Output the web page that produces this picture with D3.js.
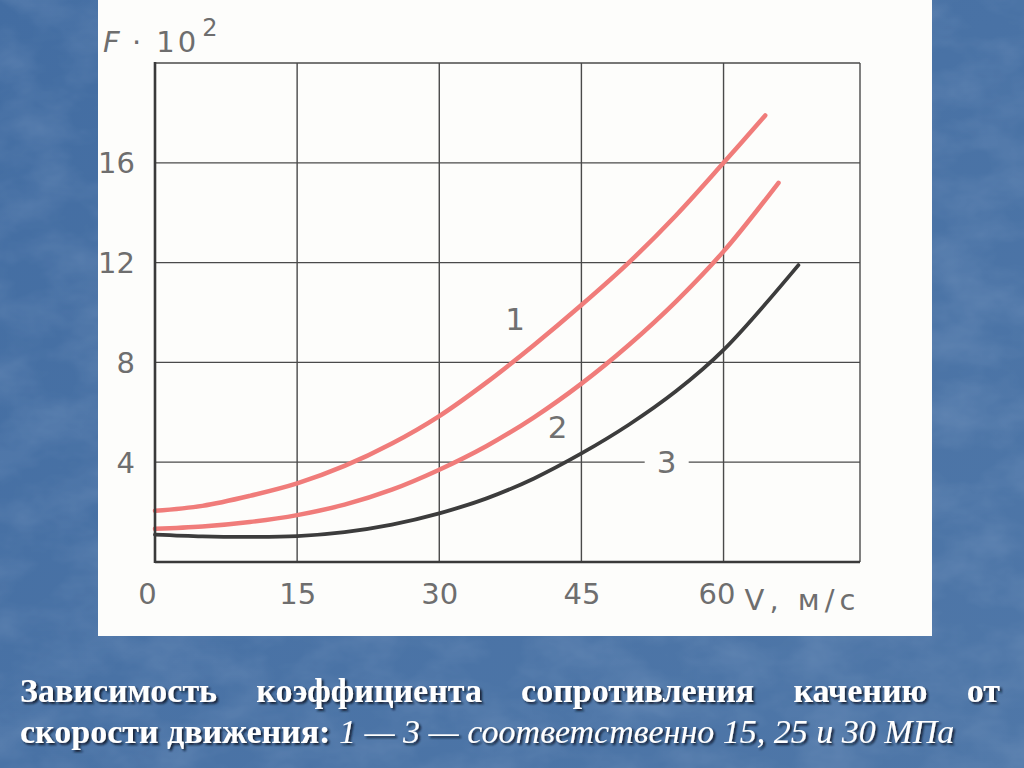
<!DOCTYPE html>
<html><head><meta charset="utf-8">
<script src="https://cdn.jsdelivr.net/npm/d3@7"></script>
<style>html,body{margin:0;padding:0;background:#4b73a5;}svg{display:block}</style>
</head><body>
<svg id="c" width="1024" height="768"></svg>
<script>
// ---- data ----
const speeds1 = [0, 5, 10, 15, 20, 25, 30, 35, 40, 45, 50, 55, 60, 64.4];
const curve1  = [2.05, 2.25, 2.65, 3.15, 3.85, 4.75, 5.85, 7.2, 8.7, 10.3, 12.0, 13.9, 16.0, 17.9];
const speeds2 = [0, 5, 10, 15, 20, 25, 30, 35, 40, 45, 50, 55, 60, 65.8];
const curve2  = [1.33, 1.42, 1.6, 1.88, 2.3, 2.9, 3.7, 4.65, 5.8, 7.15, 8.7, 10.45, 12.45, 15.2];
const speeds3 = [0, 5, 10, 15, 20, 25, 30, 35, 40, 45, 50, 55, 60, 67.9];
const curve3  = [1.1, 1.03, 1.01, 1.04, 1.2, 1.5, 1.95, 2.55, 3.35, 4.35, 5.5, 6.85, 8.5, 11.9];
const xTicks = [0, 15, 30, 45, 60];
const yTicks = [4, 8, 12, 16];
const gridX = [15, 30, 45, 60];
const gridY = [4, 8, 12, 16];
const curveLabels = [{t:"1", x:38, y:9.3}, {t:"2", x:42.5, y:4.95}, {t:"3", x:54, y:3.55}];
const captionLine1 = ["Зависимость", "коэффициента", "сопротивления", "качению", "от"];
const captionBold2 = "скорости движения:";
const captionItalic2 = "1 — 3 — соответственно 15, 25 и 30 МПа";

const svg = d3.select("#c");
const defs = svg.append("defs");
const tex = defs.append("filter").attr("id","tex").attr("x",0).attr("y",0).attr("width","100%").attr("height","100%");
tex.append("feTurbulence").attr("type","fractalNoise").attr("baseFrequency","0.015 0.025").attr("numOctaves",4).attr("seed",7).attr("result","n");
tex.append("feColorMatrix").attr("in","n").attr("type","matrix")
  .attr("values","0 0 0 0 0.8  0 0 0 0 0.87  0 0 0 0 1  0 0 0 0.22 -0.08").attr("result","m");
tex.append("feComposite").attr("in","m").attr("in2","SourceGraphic").attr("operator","in");
const sh = defs.append("filter").attr("id","sh").attr("x","-5%").attr("y","-20%").attr("width","110%").attr("height","140%");
sh.append("feDropShadow").attr("dx",2).attr("dy",2).attr("stdDeviation",0.8).attr("flood-color","#0c1828").attr("flood-opacity",0.9);

// background
const bg = defs.append("linearGradient").attr("id","bg").attr("x1",0).attr("y1",0).attr("x2",1).attr("y2",1);
bg.append("stop").attr("offset","0%").attr("stop-color","#436da2");
bg.append("stop").attr("offset","100%").attr("stop-color","#4f77a8");
svg.append("rect").attr("width",1024).attr("height",768).attr("fill","url(#bg)");
svg.append("rect").attr("width",1024).attr("height",768).attr("fill","#4a72a4").attr("filter","url(#tex)");

// white picture
svg.append("rect").attr("x",98).attr("y",0).attr("width",834).attr("height",636).attr("fill","#fdfdfb");

const x = d3.scaleLinear().domain([0, 74.4]).range([155, 860]);
const y = d3.scaleLinear().domain([0, 20]).range([562, 63]);

const g = svg.append("g");
const gridCol = "#4a4a4a";
// grid
g.selectAll(".gx").data(gridX).join("line")
  .attr("x1",d=>x(d)).attr("x2",d=>x(d)).attr("y1",y(0)).attr("y2",y(20))
  .attr("stroke",gridCol).attr("stroke-width",1.4);
g.selectAll(".gy").data(gridY).join("line")
  .attr("x1",x(0)).attr("x2",x(74.4)).attr("y1",d=>y(d)).attr("y2",d=>y(d))
  .attr("stroke",gridCol).attr("stroke-width",1.3);
// frame
g.append("line").attr("x1",x(0)).attr("x2",x(74.4)).attr("y1",y(20)).attr("y2",y(20)).attr("stroke",gridCol).attr("stroke-width",1.6);
g.append("line").attr("x1",x(74.4)).attr("x2",x(74.4)).attr("y1",y(0)).attr("y2",y(20)).attr("stroke",gridCol).attr("stroke-width",1.4);

// curve labels (3 has white background)
const lab = g.selectAll(".cl").data(curveLabels).join("g");
lab.filter(d=>d.t==="3").append("rect")
  .attr("x",d=>x(d.x)-22).attr("y",d=>y(d.y)-28).attr("width",44).attr("height",34).attr("fill","#fdfdfb");
lab.append("text").attr("x",d=>x(d.x)).attr("y",d=>y(d.y))
  .attr("text-anchor","middle").attr("font-family","DejaVu Sans").attr("font-size",31)
  .attr("fill","#707070").text(d=>d.t);

// curves
const line = d3.line().curve(d3.curveCatmullRom.alpha(0.5));
const series = [
  {xs:speeds1, ys:curve1, c:"#f07c7a", w:4.5},
  {xs:speeds2, ys:curve2, c:"#f07c7a", w:4.5},
  {xs:speeds3, ys:curve3, c:"#3c3c3c", w:3.8}
];
g.selectAll(".curve").data(series).join("path")
  .attr("d",s=>line(s.xs.map((v,i)=>[x(v), y(s.ys[i])])))
  .attr("fill","none").attr("stroke",s=>s.c).attr("stroke-width",s=>s.w).attr("stroke-linecap","round");

// axes
const fontTick = "DejaVu Sans";
const tickCol = "#6e6e6e";
const ya = g.append("g").attr("transform",`translate(${x(0)},0)`)
  .call(d3.axisLeft(y).tickValues(yTicks).tickSize(0).tickPadding(20));
ya.select(".domain").remove();
ya.selectAll("text").attr("font-family",fontTick).attr("font-size",29).attr("fill",tickCol).attr("dy","0.35em");
const xa = g.append("g").attr("transform",`translate(0,${y(0)})`)
  .call(d3.axisBottom(x).tickValues(xTicks).tickSize(0).tickPadding(21));
xa.select(".domain").remove();
xa.selectAll("text").attr("font-family",fontTick).attr("font-size",29).attr("fill",tickCol)
  .attr("dx",d=>d===0?-8:(d===60?-7:0));
// main axis lines
g.append("line").attr("x1",x(0)).attr("x2",x(0)).attr("y1",y(0)+1).attr("y2",y(20)-1).attr("stroke","#3a3a3a").attr("stroke-width",2.6);
g.append("line").attr("x1",x(0)).attr("x2",x(74.4)).attr("y1",y(0)).attr("y2",y(0)).attr("stroke","#3a3a3a").attr("stroke-width",2.6);

// axis titles
g.append("text").attr("x",x(60)+21).attr("y",y(0)+48).attr("font-family",fontTick).attr("font-size",29)
  .attr("letter-spacing",5).attr("fill",tickCol).text("V, м/с");
const yt = g.append("text").attr("x",103).attr("y",52).attr("font-family",fontTick).attr("font-size",29).attr("fill",tickCol);
yt.append("tspan").attr("font-style","italic").text("F");
yt.append("tspan").attr("letter-spacing",3).text(" · 10");
yt.append("tspan").attr("dy",-16).attr("dx",3).attr("font-size",24).text("2");

// caption
const serif = "'Liberation Serif', 'Times New Roman', Times, 'DejaVu Serif', serif";
const cap = svg.append("g").attr("fill","#ffffff").style("font-family",serif).attr("font-size",34).attr("filter","url(#sh)");
const l1 = cap.append("g");
const words = l1.selectAll("text").data(captionLine1).join("text").attr("font-weight","bold").attr("y",702).text(d=>d);
const widths = []; words.each(function(){widths.push(this.getComputedTextLength());});
const total = d3.sum(widths); const gap = (1000-20-total)/(captionLine1.length-1);
let cx = 20; words.attr("x",(d,i)=>{const v=cx; cx+=widths[i]+gap; return v;});
const l2 = cap.append("text").attr("x",20).attr("y",743);
l2.append("tspan").attr("font-weight","bold").text(captionBold2 + " ");
l2.append("tspan").attr("font-style","italic").text(captionItalic2);
</script>
</body></html>
